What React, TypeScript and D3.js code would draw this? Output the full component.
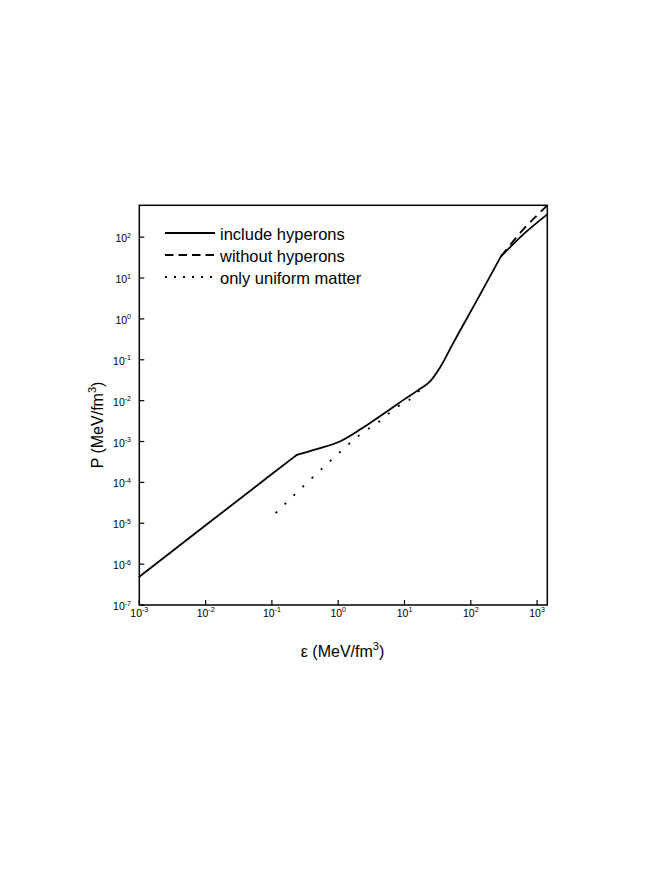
import React from "react";
import * as d3 from "d3";

const width = 654;
const height = 872;

// energy density (MeV/fm^3) and pressure (MeV/fm^3)
// include hyperons, split in three pieces at the crust kink and the hyperon threshold
const crustE = [0.001, 0.01, 0.1, 0.237];
const crustP = [4.9e-7, 8.9e-6, 1.6e-4, 4.7e-4];
const hypE = [0.237, 0.474, 1.06, 3.02, 5.93, 9.8, 16.5, 24.3, 34.4, 54.5, 123, 285];
const hypP = [4.7e-4, 6.5e-4, 1.0e-3, 2.85e-3, 6.0e-3, 1.06e-2, 1.86e-2, 2.97e-2, 6.5e-2, 0.26, 2.8, 33.8];
const coreE = [285, 620, 1426];
const coreP = [33.8, 117, 362];

const nohypE = [285, 620, 1315, 1426];
const nohypP = [33.8, 155, 528, 600];

const uniE = [0.114, 0.798, 2.13, 4.28, 7.8, 11.4, 15.3, 20.4];
const uniP = [1.77e-5, 3.6e-4, 1.47e-3, 3.2e-3, 7.1e-3, 1.0e-2, 1.55e-2, 2.35e-2];

const xTicks = [-3, -2, -1, 0, 1, 2, 3];
const yTicks = [-7, -6, -5, -4, -3, -2, -1, 0, 1, 2];

const legendLabels = ["include hyperons", "without hyperons", "only uniform matter"];
const legendDash = [null, "8.5,5", "2,7"];

const margin = { left: 139.3, right: 547.3, top: 205.3, bottom: 605 };
const font = "'Liberation Sans', Arial, sans-serif";

const x = d3.scaleLog().domain([1e-3, 1426]).range([margin.left, margin.right]);
const y = d3.scaleLog().domain([1e-7, Math.pow(10, 2.78)]).range([margin.bottom, margin.top]);

const line = d3
  .line<[number, number]>()
  .x(d => x(d[0]))
  .y(d => y(d[1]))
  .curve(d3.curveMonotoneX);

const zip = (a: number[], b: number[]) => a.map((v, i) => [v, b[i]] as [number, number]);

export default function App() {
  const stroke = { fill: "none", stroke: "#000", strokeWidth: 1.8 };
  return (
    <svg
      width={width}
      height={height}
      style={{ position: "absolute", left: 0, top: 0, background: "#fff" }}
    >
      {/* curves */}
      <path d={line(zip(uniE, uniP)) || ""} {...stroke} strokeDasharray="2,10.5" />
      <path d={line(zip(nohypE, nohypP)) || ""} {...stroke} strokeDasharray="9,6" />
      <path d={line(zip(crustE, crustP)) || ""} {...stroke} strokeLinecap="round" />
      <path d={line(zip(hypE, hypP)) || ""} {...stroke} strokeLinecap="round" />
      <path d={line(zip(coreE, coreP)) || ""} {...stroke} strokeLinecap="round" />

      {/* frame */}
      <rect
        x={margin.left}
        y={margin.top}
        width={margin.right - margin.left}
        height={margin.bottom - margin.top}
        fill="none"
        stroke="#000"
        strokeWidth={1.5}
      />

      {/* x ticks */}
      {xTicks.map(t => {
        const px = x(Math.pow(10, t));
        return (
          <g key={"x" + t}>
            <line x1={px} x2={px} y1={margin.bottom} y2={margin.bottom - 5} stroke="#000" strokeWidth={1.2} />
            <text x={px} y={616.5} fontFamily={font} fontSize={10.5} textAnchor="middle">
              10
              <tspan fontSize={7} dy={-4.5}>{t}</tspan>
            </text>
          </g>
        );
      })}

      {/* y ticks */}
      {yTicks.map(t => {
        const py = y(Math.pow(10, t));
        return (
          <g key={"y" + t}>
            <line x1={margin.left} x2={margin.left + 5} y1={py} y2={py} stroke="#000" strokeWidth={1.2} />
            <text x={131} y={py + 5} fontFamily={font} fontSize={10.5} textAnchor="end">
              10
              <tspan fontSize={7} dy={-4.5}>{t}</tspan>
            </text>
          </g>
        );
      })}

      {/* axis titles */}
      <text x={342.5} y={657} fontFamily={font} fontSize={16} textAnchor="middle">
        ε (MeV/fm<tspan fontSize={11} dy={-7}>3</tspan>
        <tspan dy={7}>)</tspan>
      </text>
      <text
        transform="translate(103,425) rotate(-90)"
        fontFamily={font}
        fontSize={16}
        textAnchor="middle"
      >
        P (MeV/fm<tspan fontSize={11} dy={-7}>3</tspan>
        <tspan dy={7}>)</tspan>
      </text>

      {/* legend */}
      {legendLabels.map((label, i) => {
        const ly = 233 + i * 22;
        return (
          <g key={label}>
            <line
              x1={165}
              x2={215}
              y1={ly}
              y2={ly}
              stroke="#000"
              strokeWidth={1.8}
              strokeDasharray={legendDash[i] || undefined}
            />
            <text x={220} y={ly + 6.5} fontFamily={font} fontSize={16.5}>
              {label}
            </text>
          </g>
        );
      })}
    </svg>
  );
}
